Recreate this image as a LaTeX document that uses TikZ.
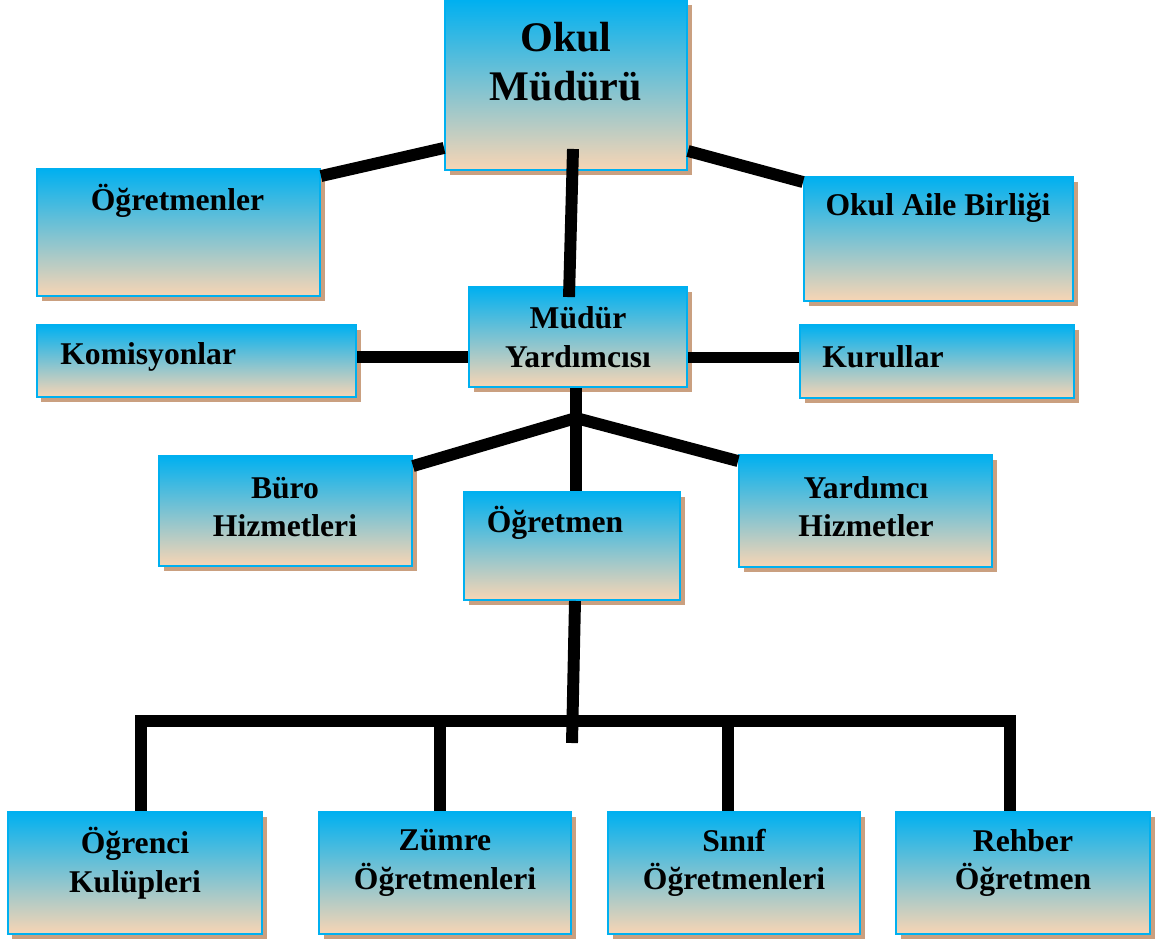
\documentclass[tikz,border=0pt]{standalone}
\usepackage{fontspec}
\setmainfont{Liberation Serif}
\usetikzlibrary{shadows}
\definecolor{boxblue}{RGB}{0,176,240}
\definecolor{boxmid}{RGB}{200,196,214}
\definecolor{boxpeach}{RGB}{248,213,180}
\definecolor{shadowtan}{RGB}{202,160,128}
\tikzset{
  box/.style={draw=boxblue, line width=1.1pt, top color=boxblue, middle color=boxmid,
    bottom color=boxpeach, inner sep=0pt,
    drop shadow={shadow xshift=0.09cm, shadow yshift=-0.1cm, fill=shadowtan, opacity=1}},
  txt/.style={font=\bfseries\fontsize{18}{22}\selectfont, align=center, inner sep=0pt},
  bigtxt/.style={font=\bfseries\fontsize{24}{27.5}\selectfont, align=center, inner sep=0pt},
  link/.style={line width=6.8pt}
}
\begin{document}
\begin{tikzpicture}
   \useasboundingbox (0,0) rectangle (23.32,-18.78);
   % boxes
   \node[box, minimum width=4.84cm, minimum height=3.40cm] (mudur) at (11.32,-1.70) {};
   \node[box, minimum width=5.66cm, minimum height=2.54cm] (ogretmenler) at (3.57,-4.65) {};
   \node[box, minimum width=5.38cm, minimum height=2.48cm] (aile) at (18.77,-4.78) {};
   \node[box, minimum width=4.36cm, minimum height=2.00cm] (yard) at (11.56,-6.74) {};
   \node[box, minimum width=6.38cm, minimum height=1.44cm] (komisyon) at (3.93,-7.22) {};
   \node[box, minimum width=5.48cm, minimum height=1.46cm] (kurul) at (18.74,-7.23) {};
   \node[box, minimum width=5.06cm, minimum height=2.20cm] (buro) at (5.71,-10.22) {};
   \node[box, minimum width=4.32cm, minimum height=2.16cm] (ogretmen) at (11.44,-10.92) {};
   \node[box, minimum width=5.06cm, minimum height=2.24cm] (yhiz) at (17.31,-10.22) {};
   \node[box, minimum width=5.08cm, minimum height=2.44cm] (kulup) at (2.70,-17.46) {};
   \node[box, minimum width=5.04cm, minimum height=2.44cm] (zumre) at (8.90,-17.46) {};
   \node[box, minimum width=5.04cm, minimum height=2.44cm] (sinif) at (14.68,-17.46) {};
   \node[box, minimum width=5.08cm, minimum height=2.44cm] (rehber) at (20.46,-17.46) {};
   % texts
   \node[bigtxt] (t-mudur) at (11.32,-1.23) {Okul\\Müdürü};
   \node[txt] (t-ogretmenler) at (3.55,-4.02) {Öğretmenler};
   \node[txt] (t-aile) at (18.76,-4.16) {Okul Aile Birliği};
   \node[txt] (t-yard) at (11.56,-6.74) {Müdür\\Yardımcısı};
   \node[txt, anchor=west] (t-komisyon) at (1.20,-7.14) {Komisyonlar};
   \node[txt, anchor=west] (t-kurul) at (16.44,-7.14) {Kurullar};
   \node[txt] (t-buro) at (5.70,-10.14) {Büro\\Hizmetleri};
   \node[txt] (t-ogretmen) at (11.10,-10.46) {Öğretmen};
   \node[txt] (t-yhiz) at (17.32,-10.13) {Yardımcı\\Hizmetler};
   \node[txt] (t-kulup) at (2.70,-17.26) {Öğrenci\\Kulüpleri};
   \node[txt] (t-zumre) at (8.90,-17.26) {Zümre\\Öğretmenleri};
   \node[txt] (t-sinif) at (14.68,-17.26) {Sınıf\\Öğretmenleri};
   \node[txt] (t-rehber) at (20.46,-17.26) {Rehber\\Öğretmen};
   % connectors
   \draw[link] ([yshift=0.46cm]mudur.south west) -- ([yshift=-0.16cm]ogretmenler.north east);
   \draw[link] ([yshift=0.40cm]mudur.south east) -- ([yshift=-0.12cm]aile.north west);
   \draw[link] ([xshift=0.14cm,yshift=0.44cm]mudur.south) -- ([xshift=-0.18cm,yshift=-0.22cm]yard.north);
   \draw[link] ([yshift=0.08cm]komisyon.east) -- ([yshift=0.08cm]komisyon.east -| yard.west);
   \draw[link] ([yshift=0.08cm]yard.east |- kurul.west) -- ([yshift=0.08cm]kurul.west);
   \coordinate (hub) at (11.52,-8.36);
   \draw[link] (hub |- yard.south) -- (hub |- ogretmen.north);
   \draw[link] (hub) -- ([yshift=-0.22cm]buro.north east);
   \draw[link] (hub) -- ([yshift=-0.14cm]yhiz.north west);
   \coordinate (tail) at (11.44,-14.86);
   \draw[link] ([xshift=0.06cm]ogretmen.south) -- (tail);
   \coordinate (busL) at (2.82,-14.42);
   \coordinate (busR) at (20.20,-14.42);
   \draw[link] (busL |- kulup.north) -- (busL) -- (busR) -- (busR |- rehber.north);
   \draw[link] ([xshift=-0.10cm]zumre.north) -- ++(0,1.82);
   \draw[link] ([xshift=-0.12cm]sinif.north) -- ++(0,1.82);
\end{tikzpicture}
\end{document}
